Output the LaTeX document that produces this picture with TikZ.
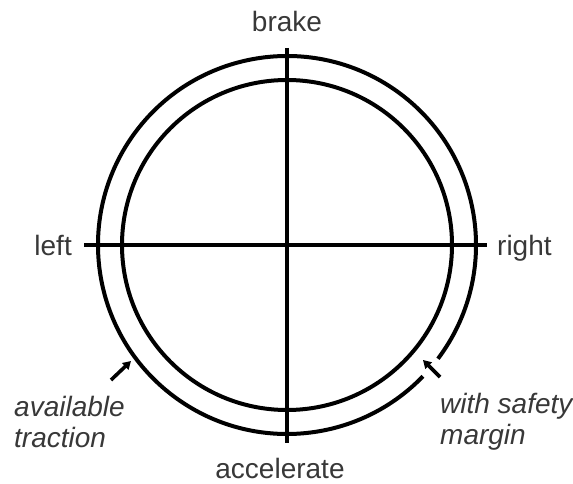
\documentclass[tikz,border=0pt]{standalone}
\usepackage{fontspec}
\setmainfont{Liberation Sans}
\usetikzlibrary{arrows.meta}
\begin{document}
\begin{tikzpicture}[x=1pt,y=1pt,
  lbl/.style={inner sep=0pt,text=black!78,font=\fontsize{28}{31}\selectfont},
  ilbl/.style={lbl,align=left,font=\fontsize{28}{31}\selectfont\itshape},
  ring/.style={line width=4pt,black},
  axis/.style={line width=3.6pt,black},
  pointer/.style={line width=3.6pt,black,-{Triangle[length=8pt,width=9pt]}}]
\useasboundingbox (0,0) rectangle (573,483);
\coordinate (O) at (287,238);
% axes
\coordinate (L) at (84,238);
\coordinate (R) at (487,238);
\coordinate (T) at (287,435);
\coordinate (B) at (287,40);
\draw[axis] (L) -- (R);
\draw[axis] (T) -- (B);
% outer circle with small gap at lower right
\draw[ring] ([shift={(-37:189)}]O) arc[start angle=-37,end angle=316,radius=189];
% inner circle
\draw[ring] (O) circle[radius=165];
% labels
\node[lbl,anchor=base] (brake) at (287,451) {brake};
\node[lbl,anchor=base] (accel) at (280,5) {accelerate};
\node[lbl,anchor=base east] (left) at (72,228) {left};
\node[lbl,anchor=base west] (right) at (497,228) {right};
\node[ilbl,anchor=north west] (avail) at (14,87) {available\\traction};
\node[ilbl,anchor=north west] (safety) at (440,90) {with safety\\margin};
% pointers
\coordinate (a1) at (111,103);
\coordinate (a2) at (131,122);
\coordinate (b1) at (440,106);
\coordinate (b2) at (423,123);
\draw[pointer] (a1) -- (a2);
\draw[pointer] (b1) -- (b2);
\end{tikzpicture}
\end{document}
